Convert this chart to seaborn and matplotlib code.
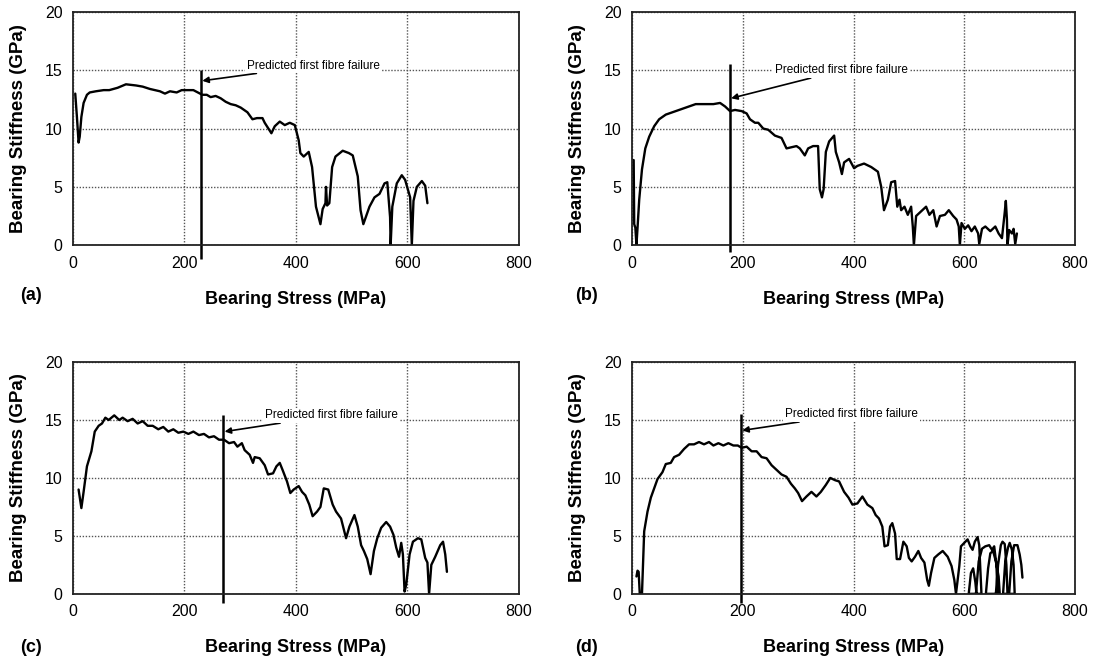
import pandas as pd
import matplotlib
matplotlib.use('Agg')
import matplotlib.pyplot as plt
import seaborn as sns

sns.set_style('white')
plt.rcParams['font.family'] = ['Liberation Sans', 'DejaVu Sans']
plt.rcParams['text.color'] = 'black'
plt.rcParams['axes.labelcolor'] = 'black'
plt.rcParams['xtick.color'] = 'black'
plt.rcParams['ytick.color'] = 'black'

# --- data (stress in MPa, stiffness in GPa) ---
stress_a = [4, 7, 10, 12, 15, 19, 25, 30, 41, 55, 65, 80, 95, 113, 125, 138, 147, 156, 165, 174, 186, 195, 204, 216,
            224, 232, 240, 247, 256, 265, 274, 283, 292, 301, 313, 322, 330, 340, 344, 356, 362, 371, 380, 389, 398,
            405, 408, 414, 423, 429, 436, 444, 448, 453, 454, 456, 460, 465, 471, 484, 495, 502, 511, 516, 521, 532,
            541, 550, 559, 564, 569, 570, 573, 581, 590, 596, 605, 608, 611, 617, 626, 632, 636]
stiff_a = [13.0, 11.0, 8.8, 9.3, 11.0, 12.2, 12.9, 13.1, 13.2, 13.3, 13.3, 13.5, 13.8, 13.7, 13.6, 13.4, 13.3, 13.2,
           13.0, 13.2, 13.1, 13.3, 13.3, 13.3, 13.1, 12.9, 12.9, 12.7, 12.8, 12.6, 12.3, 12.1, 12.0, 11.8, 11.4, 10.8,
           10.9, 10.9, 10.5, 9.6, 10.2, 10.6, 10.3, 10.5, 10.3, 9.0, 7.9, 7.6, 8.0, 6.7, 3.3, 1.8, 3.1, 3.6, 5.0, 3.4,
           3.6, 6.7, 7.6, 8.1, 7.9, 7.7, 5.9, 3.0, 1.8, 3.3, 4.1, 4.4, 5.3, 5.4, 2.4, 0.0, 3.3, 5.3, 6.0, 5.6, 4.1,
           0.0, 3.8, 5.0, 5.5, 5.1, 3.6]

stress_b = [3, 4, 6, 8, 10, 13, 18, 24, 31, 40, 49, 61, 79, 97, 115, 133, 147, 159, 168, 177, 186, 198, 207, 213,
            222, 228, 237, 246, 258, 270, 279, 288, 297, 303, 312, 318, 327, 336, 339, 343, 346, 350, 356, 365, 368,
            374, 379, 383, 392, 401, 407, 419, 432, 444, 450, 455, 462, 468, 475, 479, 483, 486, 492, 498, 504, 507,
            509, 513, 522, 531, 537, 544, 550, 556, 565, 572, 580, 586, 590, 592, 595, 601, 607, 613, 619, 625, 627,
            632, 638, 647, 656, 662, 668, 673, 675, 677, 678, 681, 686, 689, 692, 695]
stiff_b = [7.3, 1.8, 1.5, 0.0, 1.5, 3.9, 6.5, 8.3, 9.3, 10.2, 10.8, 11.2, 11.5, 11.8, 12.1, 12.1, 12.1, 12.2, 11.9,
           11.5, 11.6, 11.5, 11.3, 10.8, 10.5, 10.5, 10.0, 9.9, 9.4, 9.2, 8.3, 8.4, 8.5, 8.3, 7.7, 8.3, 8.5, 8.5, 4.8,
           4.1, 4.8, 8.0, 8.9, 9.4, 8.0, 7.1, 6.1, 7.1, 7.4, 6.6, 6.8, 7.0, 6.7, 6.3, 5.0, 3.0, 3.9, 5.4, 5.5, 3.3,
           3.9, 3.0, 3.3, 2.6, 3.3, 1.6, 0.0, 2.5, 2.9, 3.3, 2.6, 3.0, 1.6, 2.5, 2.6, 3.0, 2.5, 2.2, 1.6, 0.0, 1.9,
           1.4, 1.7, 1.2, 1.6, 1.0, 0.1, 1.4, 1.6, 1.2, 1.6, 1.0, 0.6, 2.8, 3.8, 2.2, 0.0, 1.3, 1.0, 1.4, 0.1, 1.0]

stress_c = [10, 15, 19, 25, 33, 39, 46, 52, 58, 64, 74, 83, 89, 98, 107, 116, 125, 134, 143, 153, 162, 171, 180, 189,
            198, 207, 216, 226, 235, 244, 253, 262, 271, 280, 289, 295, 303, 308, 317, 323, 326, 335, 344, 350, 359,
            365, 371, 376, 384, 390, 396, 405, 411, 417, 424, 430, 438, 444, 450, 458, 466, 472, 481, 490, 496, 505,
            511, 517, 522, 528, 534, 540, 546, 553, 562, 569, 575, 580, 585, 589, 592, 595, 598, 604, 610, 619, 625,
            632, 636, 639, 643, 650, 659, 664, 668, 671]
stiff_c = [9.0, 7.4, 8.8, 11.0, 12.3, 14.0, 14.5, 14.7, 15.2, 15.0, 15.4, 15.0, 15.2, 14.9, 15.1, 14.7, 14.9, 14.5,
           14.5, 14.2, 14.4, 14.0, 14.2, 13.9, 14.0, 13.8, 14.0, 13.7, 13.8, 13.5, 13.6, 13.3, 13.3, 13.0, 13.1, 12.7,
           13.0, 12.4, 12.0, 11.3, 11.8, 11.7, 11.1, 10.3, 10.4, 11.0, 11.3, 10.7, 9.7, 8.7, 9.0, 9.3, 8.8, 8.5, 7.7,
           6.7, 7.1, 7.5, 9.1, 9.0, 7.7, 7.1, 6.5, 4.8, 5.8, 6.8, 5.8, 4.2, 3.7, 3.0, 1.7, 3.7, 4.8, 5.7, 6.2, 5.8,
           5.1, 4.0, 3.2, 4.4, 3.4, 0.2, 0.8, 3.4, 4.5, 4.8, 4.7, 3.1, 2.7, 0.0, 2.5, 3.2, 4.2, 4.5, 3.4, 1.9]

stress_d = [8, 10, 12, 14, 18, 22, 28, 34, 40, 46, 55, 61, 70, 76, 85, 94, 103, 112, 121, 130, 139, 147, 156, 165,
            174, 183, 191, 198, 207, 216, 225, 234, 243, 252, 261, 270, 279, 287, 294, 300, 307, 315, 324, 333, 341,
            350, 358, 367, 374, 383, 391, 398, 407, 416, 425, 434, 440, 446, 452, 456, 462, 466, 470, 475, 478, 484,
            490, 496, 500, 505, 511, 517, 522, 528, 533, 536, 540, 546, 553, 561, 570, 577, 582, 585,
            591, 594, 600, 606, 611, 615, 619, 624, 627, 629, 631,
            608, 612, 616, 620, 622,
            621, 626, 632, 638, 645, 650, 654, 658, 660,
            639, 643, 647, 652, 657, 662, 664,
            657, 661, 666, 669, 673, 676, 678,
            670, 674, 679, 682, 686, 689, 691,
            681, 685, 690, 696, 700, 703, 705]
stiff_d = [1.5, 2.0, 1.9, 0.0, 0.0, 5.4, 7.1, 8.3, 9.1, 9.9, 10.5, 11.2, 11.3, 11.8, 12.0, 12.5, 12.9, 12.9, 13.1,
           12.9, 13.1, 12.8, 13.0, 12.8, 13.0, 12.8, 12.8, 12.6, 12.7, 12.3, 12.3, 11.8, 11.7, 11.1, 10.7, 10.3, 10.1,
           9.5, 9.1, 8.7, 8.0, 8.4, 8.8, 8.4, 8.8, 9.4, 10.0, 9.8, 9.7, 8.8, 8.3, 7.7, 7.8, 8.4, 7.7, 7.4, 6.8, 6.5,
           5.8, 4.1, 4.2, 5.8, 6.1, 5.2, 3.0, 3.0, 4.5, 4.1, 3.1, 2.8, 3.2, 3.7, 3.1, 2.7, 1.2, 0.7, 1.8, 3.1, 3.4,
           3.7, 3.2, 2.4, 1.2, 0.0,
           2.4, 4.1, 4.4, 4.7, 4.1, 3.8, 4.5, 4.9, 4.2, 2.0, 0.0,
           0.0, 1.8, 2.2, 1.0, 0.0,
           0.0, 2.8, 3.9, 4.1, 4.2, 3.8, 4.1, 2.5, 0.0,
           0.0, 2.2, 3.5, 3.7, 2.8, 1.5, 0.0,
           0.0, 2.5, 4.2, 4.5, 4.3, 2.5, 0.0,
           0.0, 2.8, 4.0, 4.4, 3.8, 2.5, 0.0,
           0.0, 2.8, 4.2, 4.2, 3.4, 2.5, 1.4]

panel_labels = ['(a)', '(b)', '(c)', '(d)']
failure_stress = [230, 177, 270, 197]

# layout: axes rectangles, annotation text spot, arrow tip height, failure line extent
rects = [[0.0665, 0.633, 0.406, 0.349], [0.5756, 0.633, 0.4035, 0.349],
         [0.0665, 0.111, 0.406, 0.347], [0.5756, 0.111, 0.4035, 0.347]]
text_xy = [(312, 15.4), (258, 15.0), (344, 15.4), (276, 15.5)]
arrow_tip = [14.1, 12.6, 14.0, 14.1]
line_span = [(-1.2, 15.0), (-0.6, 15.5), (-0.8, 15.4), (-0.8, 15.5)]
letter_xy = [(0.018, 0.558), (0.524, 0.558), (0.018, 0.030), (0.524, 0.030)]

curves = [(stress_a, stiff_a), (stress_b, stiff_b), (stress_c, stiff_c), (stress_d, stiff_d)]

fig = plt.figure(figsize=(10.98, 6.68), dpi=100)

for i, (xs, ys) in enumerate(curves):
    ax = fig.add_axes(rects[i])
    df = pd.DataFrame({'stress': xs, 'stiffness': ys})
    sns.lineplot(data=df, x='stress', y='stiffness', sort=False, estimator=None,
                 color='black', lw=1.7, ax=ax)

    ax.set_xlim(0, 800)
    ax.set_ylim(0, 20)
    ax.set_xticks(range(0, 801, 200))
    ax.set_yticks(range(0, 21, 5))
    ax.set_axisbelow(True)
    ax.grid(True, color='#555555', linestyle=(0, (1, 1.2)), lw=1.0)
    for sp in ax.spines.values():
        sp.set_color('#222222')
        sp.set_linewidth(1.3)
    ax.tick_params(direction='out', length=4, width=1, color='#222222', labelsize=11.5)

    ax.set_xlabel('Bearing Stress (MPa)', fontsize=13, fontweight='bold')
    ax.set_ylabel('Bearing Stiffness (GPa)', fontsize=13.5, fontweight='bold')
    ax.xaxis.set_label_coords(0.5, -0.195)
    ax.yaxis.set_label_coords(-0.103, 0.5)

    # predicted first fibre failure marker
    f = failure_stress[i]
    ax.vlines(f, line_span[i][0], line_span[i][1], color='black', lw=1.8, clip_on=False)
    ax.annotate('Predicted first fibre failure', xy=(f + 2, arrow_tip[i]), xytext=text_xy[i],
                fontsize=8.5, ha='left', va='center',
                bbox=dict(boxstyle='square,pad=0.15', fc='white', ec='none'),
                arrowprops=dict(arrowstyle='-|>', color='black', lw=1.2, mutation_scale=9,
                                shrinkA=0, shrinkB=0))

    fig.text(letter_xy[i][0], letter_xy[i][1], panel_labels[i], fontsize=13, fontweight='bold',
             ha='left', va='center')

fig.savefig('out.png', dpi=100)
